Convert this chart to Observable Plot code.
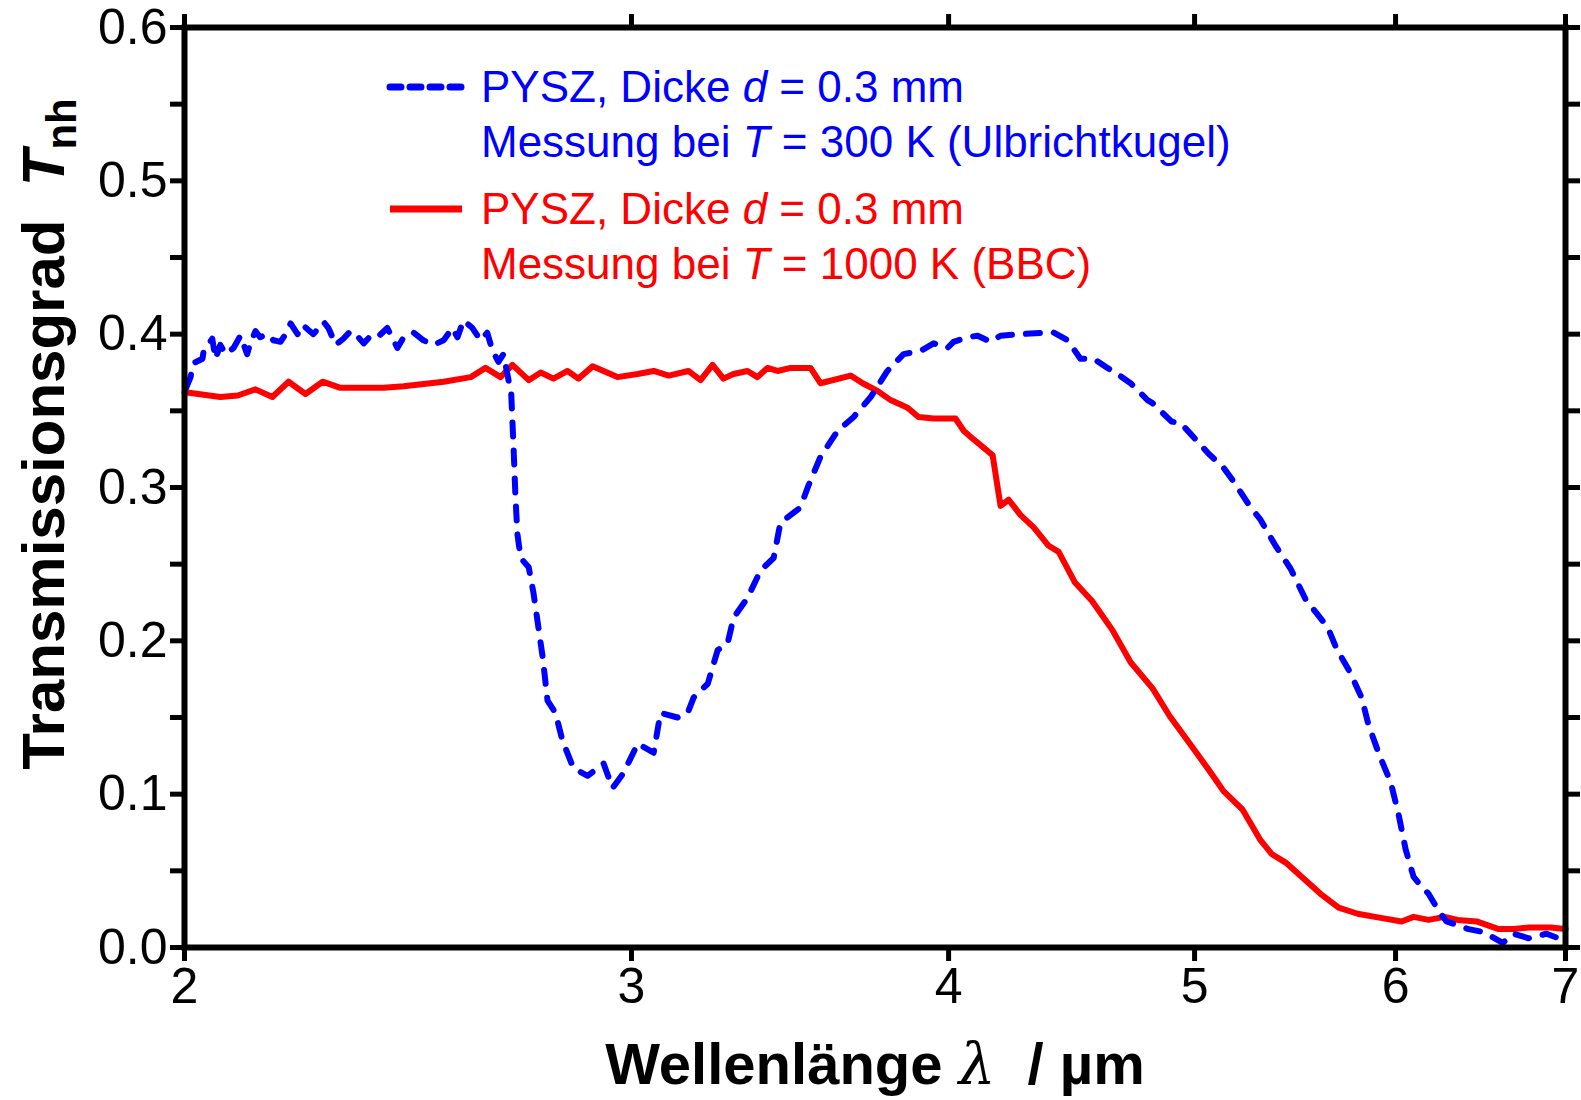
<!DOCTYPE html>
<html><head><meta charset="utf-8">
<script src="https://cdn.jsdelivr.net/npm/d3@7"></script>
<script src="https://cdn.jsdelivr.net/npm/@observablehq/plot@0.6"></script>
<style>body{margin:0;background:#fff} svg{font-family:"Liberation Sans",Arial,sans-serif}</style>
</head><body><div id="chart"></div>
<script>
// x ticks (wavelength, µm) and y ticks (transmittance)
const xTicks = [2, 3, 4, 5, 6, 7];
const yMajor = [0, 0.1, 0.2, 0.3, 0.4, 0.5, 0.6];
const yMinor = [0.05, 0.15, 0.25, 0.35, 0.45, 0.55];

// Series 1: PYSZ, d = 0.3 mm, T = 300 K (Ulbrichtkugel) — blue dashed
const blueWavelength = [2.003,2.011,2.016,2.033,2.035,2.051,2.057,2.066,2.076,2.091,2.104,2.117,2.123,2.133,2.142,2.156,2.168,2.182,2.192,2.202,2.216,2.226,2.248,2.269,2.279,2.294,2.310,2.325,2.336,2.353,2.368,2.383,2.404,2.426,2.440,2.462,2.484,2.507,2.530,2.550,2.562,2.576,2.597,2.616,2.632,2.645,2.659,2.671,2.682,2.690,2.696,2.700,2.705,2.713,2.733,2.745,2.757,2.768,2.780,2.800,2.818,2.846,2.883,2.925,2.949,2.979,3.017,3.061,3.080,3.128,3.157,3.174,3.215,3.244,3.273,3.291,3.333,3.373,3.413,3.434,3.497,3.520,3.561,3.617,3.670,3.727,3.784,3.840,3.899,3.946,3.996,4.018,4.069,4.107,4.155,4.193,4.270,4.376,4.400,4.456,4.508,4.562,4.620,4.662,4.718,4.791,4.813,4.897,4.937,4.982,5.064,5.133,5.185,5.256,5.308,5.381,5.455,5.530,5.585,5.641,5.687,5.755,5.818,5.855,5.914,5.973,6.016,6.055,6.099,6.127,6.182,6.244,6.284,6.411,6.499,6.612,6.678,6.770,6.881,6.956,7.0];
const blueT = [0.365,0.372,0.381,0.384,0.389,0.397,0.384,0.393,0.387,0.391,0.399,0.387,0.394,0.402,0.398,0.400,0.396,0.395,0.400,0.407,0.400,0.406,0.400,0.408,0.404,0.393,0.397,0.402,0.400,0.394,0.399,0.398,0.404,0.391,0.398,0.401,0.396,0.393,0.396,0.404,0.398,0.409,0.404,0.396,0.401,0.389,0.382,0.387,0.372,0.361,0.324,0.296,0.270,0.254,0.248,0.231,0.209,0.189,0.161,0.153,0.135,0.117,0.112,0.120,0.104,0.114,0.133,0.127,0.153,0.150,0.153,0.163,0.172,0.194,0.198,0.215,0.228,0.246,0.254,0.277,0.287,0.300,0.320,0.337,0.346,0.359,0.376,0.387,0.389,0.394,0.391,0.395,0.398,0.399,0.395,0.399,0.400,0.401,0.401,0.396,0.384,0.384,0.378,0.374,0.368,0.357,0.355,0.343,0.342,0.335,0.322,0.313,0.303,0.288,0.279,0.262,0.247,0.227,0.218,0.209,0.195,0.180,0.163,0.145,0.125,0.108,0.087,0.064,0.046,0.042,0.035,0.023,0.017,0.012,0.010,0.003,0.009,0.006,0.009,0.006,0.007];

// Series 2: PYSZ, d = 0.3 mm, T = 1000 K (BBC) — red solid
const redWavelength = [2.0,2.005,2.066,2.099,2.133,2.166,2.198,2.232,2.267,2.304,2.361,2.396,2.440,2.530,2.593,2.628,2.664,2.693,2.733,2.763,2.795,2.831,2.859,2.896,2.962,3.017,3.061,3.103,3.159,3.194,3.229,3.261,3.291,3.333,3.363,3.394,3.425,3.466,3.529,3.561,3.660,3.700,3.750,3.795,3.854,3.892,3.946,4.025,4.055,4.081,4.129,4.163,4.193,4.224,4.270,4.321,4.380,4.420,4.486,4.556,4.641,4.718,4.813,4.888,4.973,5.064,5.133,5.222,5.308,5.362,5.435,5.605,5.698,5.797,5.935,6.033,6.099,6.182,6.273,6.347,6.458,6.588,6.678,6.770,6.906,7.0];
const redT = [0.362,0.362,0.359,0.360,0.364,0.359,0.369,0.361,0.369,0.365,0.365,0.365,0.366,0.369,0.372,0.378,0.372,0.380,0.370,0.375,0.371,0.376,0.371,0.379,0.372,0.374,0.376,0.373,0.376,0.370,0.380,0.371,0.374,0.376,0.372,0.378,0.376,0.378,0.378,0.368,0.373,0.368,0.363,0.357,0.352,0.346,0.345,0.345,0.337,0.333,0.326,0.321,0.288,0.292,0.282,0.274,0.262,0.258,0.238,0.226,0.207,0.186,0.169,0.151,0.134,0.116,0.102,0.090,0.070,0.061,0.055,0.035,0.026,0.022,0.019,0.017,0.020,0.018,0.020,0.018,0.017,0.012,0.012,0.013,0.013,0.012];

const blue = blueWavelength.map((x, i) => ({x, y: blueT[i]}));
const red = redWavelength.map((x, i) => ({x, y: redT[i]}));

const tickCommon = {tickSize: 14, strokeWidth: 5, label: null};
const plot = Plot.plot({
  width: 1581, height: 1100,
  marginLeft: 184, marginRight: 16, marginTop: 27, marginBottom: 153,
  style: {fontFamily: "Liberation Sans, Arial, sans-serif", background: "#fff", color: "#000", overflow: "visible"},
  x: {type: "log", domain: [2, 7]},
  y: {domain: [0, 0.6]},
  marks: [
    Plot.axisX(xTicks, {anchor: "bottom", ...tickCommon, tickPadding: 6, fontSize: 50, tickFormat: d => String(d)}),
    Plot.axisX(xTicks, {anchor: "top", ...tickCommon, tickFormat: () => ""}),
    Plot.axisY(yMajor, {anchor: "left", ...tickCommon, tickPadding: 3, fontSize: 50, tickFormat: d => d.toFixed(1)}),
    Plot.axisY(yMinor, {anchor: "left", ...tickCommon, tickFormat: () => ""}),
    Plot.axisY(yMajor.concat(yMinor), {anchor: "right", ...tickCommon, tickFormat: () => ""}),
    Plot.line(red, {x: "x", y: "y", stroke: "#ff0000", strokeWidth: 6, strokeLinejoin: "round"}),
    Plot.line(blue, {x: "x", y: "y", stroke: "#0000ff", strokeWidth: 6, strokeDasharray: "14,14", strokeLinecap: "round", strokeLinejoin: "round"}),
    Plot.frame({stroke: "#000", strokeWidth: 6})
  ]
});
document.getElementById("chart").appendChild(plot);

const svg = d3.select(plot);
// Legend
const leg = svg.append("g").style("font-size", "44px").attr("text-anchor", "start");
leg.append("line").attr("x1", 390).attr("x2", 462).attr("y1", 87).attr("y2", 87)
  .attr("stroke", "#0000ff").attr("stroke-width", 7).attr("stroke-dasharray", "11,9").attr("stroke-linecap", "round");
leg.append("line").attr("x1", 390).attr("x2", 462).attr("y1", 209).attr("y2", 209)
  .attr("stroke", "#ff0000").attr("stroke-width", 7);
function legText(y, color, parts) {
  const t = leg.append("text").attr("x", 481).attr("y", y).attr("fill", color).attr("text-anchor", "start");
  parts.forEach(([s, it]) => t.append("tspan").text(s).style("font-style", it ? "italic" : "normal"));
}
legText(102, "#0000ff", [["PYSZ, Dicke ", false], ["d", true], [" = 0.3 mm", false]]);
legText(157, "#0000ff", [["Messung bei ", false], ["T", true], [" = 300 K (Ulbrichtkugel)", false]]);
legText(224, "#ff0000", [["PYSZ, Dicke ", false], ["d", true], [" = 0.3 mm", false]]);
legText(279, "#ff0000", [["Messung bei ", false], ["T", true], [" = 1000 K (BBC)", false]]);

// Axis labels
const xl = svg.append("text").attr("x", 875).attr("y", 1084).attr("text-anchor", "middle")
  .style("font-size", "58px").style("font-weight", "bold").attr("fill", "#000");
xl.append("tspan").text("Wellenlänge ");
xl.append("tspan").text("λ").style("font-style", "italic").style("font-weight", "normal").style("font-family", "DejaVu Serif, serif");
xl.append("tspan").text("  / µm");

const yl = svg.append("text").attr("transform", "translate(64,434) rotate(-90)").attr("text-anchor", "middle")
  .style("font-size", "60px").style("font-weight", "bold").attr("fill", "#000");
yl.append("tspan").text("Transmissionsgrad  ");
yl.append("tspan").text("T").style("font-style", "italic");
yl.append("tspan").text("nh").style("font-size", "42px").attr("dy", 12);
</script>
</body></html>
